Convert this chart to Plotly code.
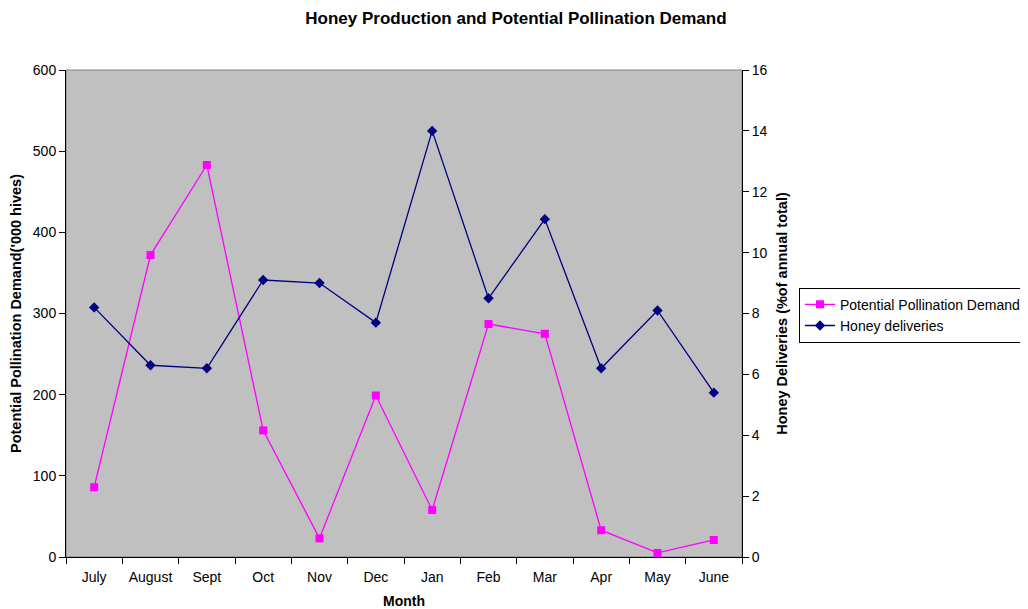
import plotly.graph_objects as go

months = ["July", "August", "Sept", "Oct", "Nov", "Dec", "Jan", "Feb", "Mar", "Apr", "May", "June"]
pollination_demand = [86, 372, 483, 156, 23, 199, 58, 287, 275, 33, 5, 21]
honey_deliveries = [8.2, 6.3, 6.2, 9.1, 9.0, 7.7, 14.0, 8.5, 11.1, 6.2, 8.1, 5.4]

FONT = "Liberation Sans, Arial, sans-serif"

fig = go.Figure()
fig.add_trace(go.Scatter(
    x=months, y=pollination_demand, name="Potential Pollination Demand",
    mode="lines+markers",
    line=dict(color="#FF00FF", width=1.3),
    marker=dict(symbol="square", size=8, color="#FF00FF"),
))
fig.add_trace(go.Scatter(
    x=months, y=honey_deliveries, name="Honey deliveries",
    mode="lines+markers", yaxis="y2",
    line=dict(color="#000080", width=1.3),
    marker=dict(symbol="diamond", size=8, color="#000080"),
))

fig.update_layout(
    width=1020, height=601,
    margin=dict(l=58, r=286, t=62, b=52, autoexpand=False),
    paper_bgcolor="white", plot_bgcolor="#C0C0C0",
    font=dict(family=FONT, size=14, color="black"),
    title=dict(text="<b>Honey Production and Potential Pollination Demand</b>",
               x=0.498, xref="container", xanchor="center", y=0.983, yref="container",
               yanchor="middle", font=dict(size=17)),
    showlegend=True,
    legend=dict(x=1.0843, y=0.553, xanchor="left", yanchor="top",
                bgcolor="white", bordercolor="black", borderwidth=1,
                font=dict(size=14), tracegroupgap=0),
    xaxis=dict(
        type="category", showgrid=False, showline=True, linecolor="black", linewidth=1,
        ticks="outside", tickson="boundaries", ticklen=6, tickcolor="black",
        ticklabelstandoff=7, automargin=False,
        title=dict(text="<b>Month</b>", font=dict(size=14), standoff=12),
        range=[-0.5, 11.5], zeroline=False,
    ),
    yaxis=dict(
        range=[0, 600], dtick=100, showgrid=False, showline=True, linecolor="black",
        linewidth=1, ticks="outside", ticklen=6, tickcolor="black", zeroline=False,
        automargin=False,
        title=dict(text="<b>Potential Pollination Demand('000 hives)</b>", font=dict(size=14.5), standoff=10),
    ),
    yaxis2=dict(
        range=[0, 16], dtick=2, overlaying="y", side="right", showgrid=False,
        showline=True, linecolor="black", linewidth=1, ticks="outside", ticklen=6,
        tickcolor="black", zeroline=False, automargin=False,
        title=dict(text="<b>Honey Deliveries (%of annual total)</b>", font=dict(size=14.5), standoff=10),
    ),
    shapes=[dict(type="rect", xref="paper", yref="paper", x0=0, x1=1, y0=0, y1=1,
                 line=dict(color="#808080", width=1), layer="below")],
)

fig.write_html("out.html")
